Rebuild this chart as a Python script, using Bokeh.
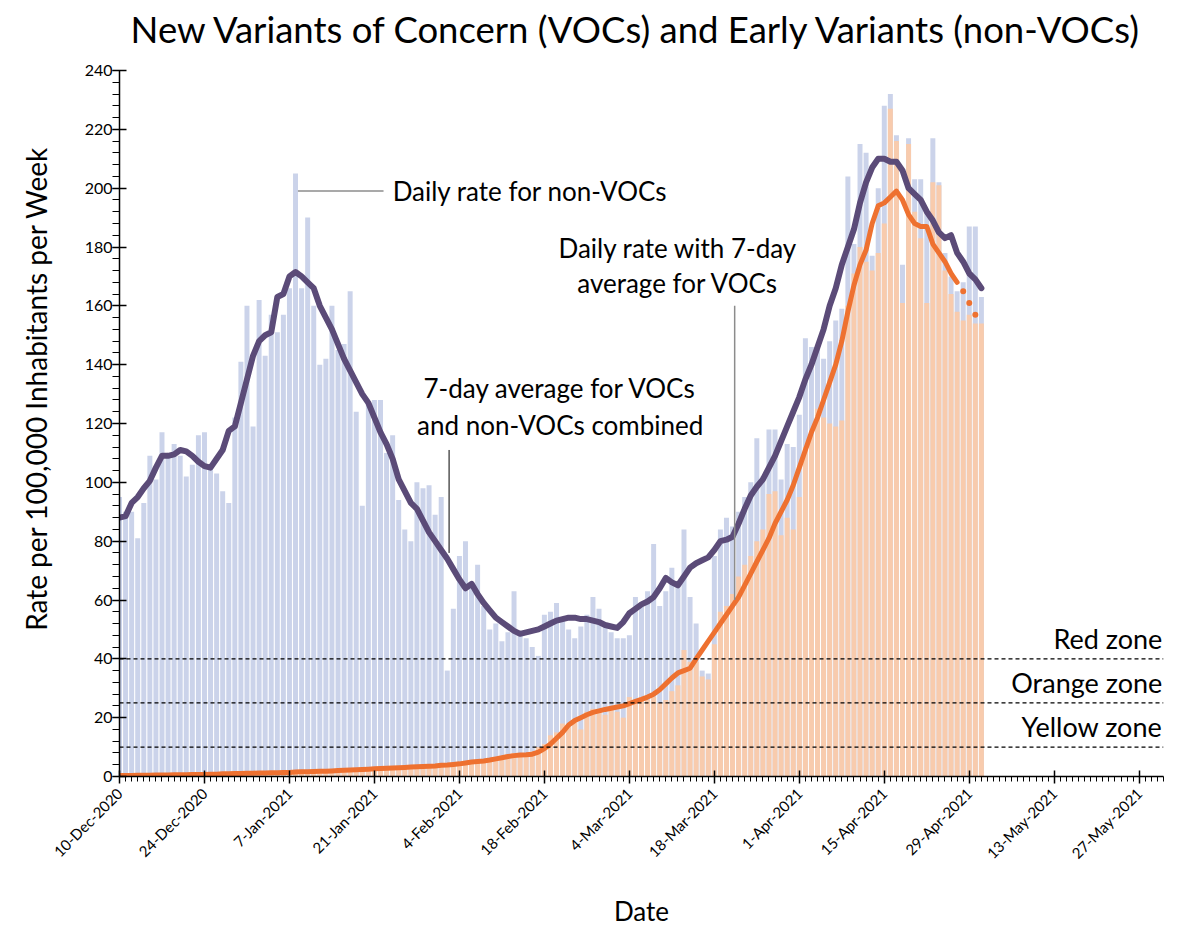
import math
from bokeh.plotting import figure
from bokeh.models import FixedTicker, Span, Label, Range1d, ColumnDataSource
from bokeh.embed import file_html
from bokeh.resources import INLINE

FONT = "Lato"

# ---------------- data ----------------
# day index 0 = 10-Dec-2020
tick_days = [0, 14, 28, 42, 56, 70, 84, 98, 112, 126, 140, 154, 168]
tick_labels = ["10-Dec-2020", "24-Dec-2020", "7-Jan-2021", "21-Jan-2021", "4-Feb-2021",
               "18-Feb-2021", "4-Mar-2021", "18-Mar-2021", "1-Apr-2021", "15-Apr-2021",
               "29-Apr-2021", "13-May-2021", "27-May-2021"]

# daily rate, all variants (top of the blue bars)
total_rate = [
    95, 90, 90, 81, 93, 109, 101, 117, 109, 113,
    109, 102, 106, 116, 117, 106, 103, 97, 93, 122,
    141, 160, 119, 162, 143, 157, 151, 157, 166, 205,
    166, 190, 160, 140, 142, 160, 145, 147, 165, 124,
    92, 127, 128, 128, 110, 116, 94, 84, 80, 100,
    98, 99, 89, 95, 36, 57, 75, 80, 65, 72,
    58, 50, 52, 46, 49, 63, 49, 47, 44, 41,
    55, 56, 59, 53, 50, 47, 51, 55, 61, 57,
    51, 49, 47, 47, 48, 61, 58, 63, 79, 58,
    63, 71, 66, 84, 61, 52, 36, 35, 75, 84,
    88, 85, 90, 95, 100, 115, 102, 118, 118, 101,
    113, 112, 123, 149, 146, 146, 142, 148, 155, 159,
    204, 181, 215, 212, 177, 200, 228, 232, 218, 174,
    217, 203, 203, 192, 217, 202, 178, 170, 165, 168,
    187, 187, 163]

# daily rate, VOCs (orange bars)
voc_rate = [
    0.3, 0.2, 0.4, 0.3, 0.4, 0.5, 0.4, 0.5, 0.6, 0.5,
    0.6, 0.7, 0.6, 0.7, 0.8, 0.8, 0.9, 0.8, 1.0, 1.1,
    1.0, 1.2, 1.1, 1.3, 1.2, 1.4, 1.3, 1.5, 1.4, 1.6,
    1.7, 1.6, 1.8, 1.9, 1.8, 2.0, 2.1, 2.2, 2.1, 2.3,
    2.4, 2.5, 2.6, 2.7, 2.8, 2.9, 3.0, 3.1, 3.2, 3.3,
    3.4, 3.5, 3.6, 3.8, 3.9, 4.1, 4.3, 4.5, 4.8, 5.0,
    5.0, 5.5, 6.5, 6.0, 7.5, 8.0, 7.0, 8.0, 8.5, 10.0,
    11, 14, 15, 18, 17, 19, 16, 22, 23, 22,
    21, 23, 22, 20, 27, 26, 27, 26, 27, 25,
    26, 29, 31, 43, 39, 39, 34, 33, 45, 56,
    58, 62, 68, 72, 75, 80, 84, 96, 97, 82,
    88, 84, 95, 112, 116, 125, 122, 120, 119, 121,
    160, 171, 180, 175, 172, 178, 188, 227, 216, 161,
    215, 192, 183, 161, 202, 201, 172, 164, 158, 155,
    157, 154, 154]

# 7-day average, VOCs and non-VOCs combined (purple line)
total_avg = [
    88, 88.5, 93, 95, 98, 100.5, 105, 109, 109, 109.5,
    111, 110.5, 109, 107, 105.5, 105, 108, 111, 117.5, 119,
    127, 135, 143, 148, 150, 151, 163, 164, 170, 171.5,
    170, 168, 166, 160, 156, 152, 147, 142, 138, 134,
    130, 127, 122, 117, 113, 108, 101, 97, 93, 91,
    87, 83, 80, 77, 74, 70.5, 67, 64, 65.5, 62,
    59, 56.5, 54, 52.5, 51, 49.5, 48.5, 49, 49.5, 50,
    51, 52, 53, 53.5, 54, 54, 53.5, 53.5, 53, 52.5,
    51.5, 51, 50.5, 52.5, 55.5, 57, 58.5, 59.5, 61, 64,
    67.5, 66, 65, 68, 71, 72.5, 73.5, 74.5, 77, 80,
    80.5, 81.5, 86, 91, 95.5, 98.5, 101, 105, 109, 114,
    119, 124, 129, 135, 140, 146, 152, 160, 166, 174,
    180, 186, 195, 202, 207, 210, 210, 209, 209, 206,
    200, 198, 196, 192, 189, 185, 183, 184, 178, 175,
    171, 169, 166]

# 7-day average, VOCs (orange line), complete days
voc_avg = [
    0.3, 0.3, 0.3, 0.4, 0.4, 0.4, 0.5, 0.5, 0.5, 0.6,
    0.6, 0.6, 0.7, 0.7, 0.7, 0.8, 0.8, 0.9, 0.9, 1.0,
    1.0, 1.1, 1.1, 1.2, 1.2, 1.3, 1.3, 1.4, 1.4, 1.5,
    1.6, 1.6, 1.7, 1.8, 1.8, 1.9, 2.0, 2.1, 2.2, 2.3,
    2.4, 2.5, 2.6, 2.7, 2.8, 2.9, 3.0, 3.1, 3.2, 3.3,
    3.4, 3.5, 3.6, 3.8, 3.9, 4.1, 4.3, 4.6, 4.9, 5.1,
    5.3, 5.6, 6.0, 6.4, 6.8, 7.1, 7.3, 7.4, 7.6, 8.3,
    9.5, 11, 13, 15, 17.5, 19, 20, 21, 21.8, 22.3,
    22.8, 23.2, 23.6, 24, 24.8, 25.5, 26.2, 27, 28, 29.5,
    31.5, 33.5, 35.2, 36, 36.8, 40, 43, 46, 49, 52,
    55, 58, 61, 65, 69, 73, 77, 81, 86, 90,
    94, 99, 105, 111, 117, 122, 128, 134, 140, 148,
    158, 167, 174, 179, 188, 194, 195, 197, 199, 196,
    191, 188, 187, 187, 181, 178, 175, 171, 168]
# 7-day average, VOCs, incomplete last days (dotted)
voc_avg_prelim = [165, 161, 157]

zone_levels = [40, 25, 10]
zone_names = ["Red zone", "Orange zone", "Yellow zone"]

y_max = 240

# ---------------- figure ----------------
days = list(range(len(total_rate)))
n_avg = len(voc_avg)
prelim_days = list(range(n_avg, n_avg + len(voc_avg_prelim)))

# the frame also holds the title band above the 0-240 axis
px_per_unit = 706 / y_max
frame_h = 776
p = figure(frame_width=1044, frame_height=frame_h,
           min_border_left=119, min_border_right=12,
           min_border_top=0, min_border_bottom=152,
           x_range=Range1d(0, 172), y_range=Range1d(0, frame_h / px_per_unit),
           output_backend="svg", toolbar_location=None)
p.outline_line_color = None
p.background_fill_color = "white"
p.border_fill_color = "white"
p.xgrid.visible = False
p.ygrid.visible = False

src = ColumnDataSource(dict(day=days, total=total_rate, voc=voc_rate))
p.vbar(x="day", top="total", width=0.82, source=src,
       fill_color="#CBD3EA", line_color=None)
p.vbar(x="day", top="voc", width=0.82, source=src,
       fill_color="#F8CBAD", line_color=None)

for lvl in zone_levels:
    p.add_layout(Span(location=lvl, dimension="width", line_color="black",
                      line_dash="4 3", line_width=1.3))

p.line(days, total_avg, line_color="#5B4B78", line_width=6,
       line_join="round", line_cap="round")
p.line(list(range(n_avg)), voc_avg, line_color="#EE7130", line_width=5,
       line_join="round", line_cap="round")
p.scatter(prelim_days, voc_avg_prelim, size=6, fill_color="#EE7130",
          line_color=None)

# axes
ax = p.xaxis[0]
ax.ticker = FixedTicker(ticks=tick_days, minor_ticks=list(range(0, 173)))
ax.major_label_overrides = {d: l for d, l in zip(tick_days, tick_labels)}
ax.major_label_orientation = math.pi / 4
ay = p.yaxis[0]
ay.bounds = (0, y_max)
ay.ticker = FixedTicker(ticks=list(range(0, y_max + 1, 20)),
                        minor_ticks=list(range(0, y_max + 1, 4)))
for a in (ax, ay):
    a.axis_line_color = "black"
    a.axis_line_width = 1.5
    a.major_tick_line_color = "black"
    a.major_tick_line_width = 1.5
    a.minor_tick_line_color = "black"
    a.minor_tick_line_width = 1
    a.major_label_text_font = FONT
    a.major_label_text_color = "black"
    a.axis_label_text_font = FONT
    a.axis_label_text_font_style = "normal"
    a.axis_label_text_color = "black"
ax.major_label_text_font_size = "15px"
ay.major_label_text_font_size = "16px"
ax.major_tick_in = 6
ax.major_tick_out = 7
ax.minor_tick_in = 0
ax.minor_tick_out = 5
ay.major_tick_in = 7
ay.major_tick_out = 7
ay.minor_tick_in = 0
ay.minor_tick_out = 7
ay.major_label_standoff = 0
ax.major_label_standoff = 7

ay.axis_label = "Rate per 100,000 Inhabitants per Week"
ay.axis_label_text_font_size = "28px"
ay.axis_label_standoff = 29
ax.axis_label = "Date"
ax.axis_label_text_font_size = "26px"
ax.axis_label_standoff = 24

# title (inside the top band of the frame)
p.add_layout(Label(x=85.3, y=(frame_h - 28) / px_per_unit,
                   text="New Variants of Concern (VOCs) and Early Variants (non-VOCs)",
                   text_align="center", text_baseline="middle",
                   text_font=FONT, text_font_size="36.5px", text_color="black"))

# zone labels
for lvl, name in zip(zone_levels, zone_names):
    p.add_layout(Label(x=171.8, y=lvl + 7.0, text=name, text_align="right",
                       text_baseline="middle",
                       text_font=FONT, text_font_size="27px", text_color="black"))

# annotations
ANN = dict(text_font=FONT, text_font_size="26px", text_color="black")
peak = total_rate.index(max(total_rate[:60]))
p.line([peak + 0.4, 43.5], [199, 199], line_color="#8C8C8C", line_width=1.5)
p.add_layout(Label(x=45.0, y=199, text="Daily rate for non-VOCs",
                   text_align="left", text_baseline="middle", **ANN))

p.line([101.35, 101.35], [160, voc_avg[101] + 2], line_color="#8C8C8C", line_width=1.5)
p.add_layout(Label(x=92.0, y=179.6, text="Daily rate with 7-day",
                   text_align="center", text_baseline="middle", **ANN))
p.add_layout(Label(x=92.0, y=167.7, text="average for VOCs",
                   text_align="center", text_baseline="middle", **ANN))

p.line([54.3, 54.3], [111, total_avg[54] + 2], line_color="black", line_width=1)
p.add_layout(Label(x=72.6, y=132, text="7-day average for VOCs",
                   text_align="center", text_baseline="middle", **ANN))
p.add_layout(Label(x=72.6, y=119.4, text="and non-VOCs combined",
                   text_align="center", text_baseline="middle", **ANN))

open("out.html", "w").write(file_html(p, INLINE))
